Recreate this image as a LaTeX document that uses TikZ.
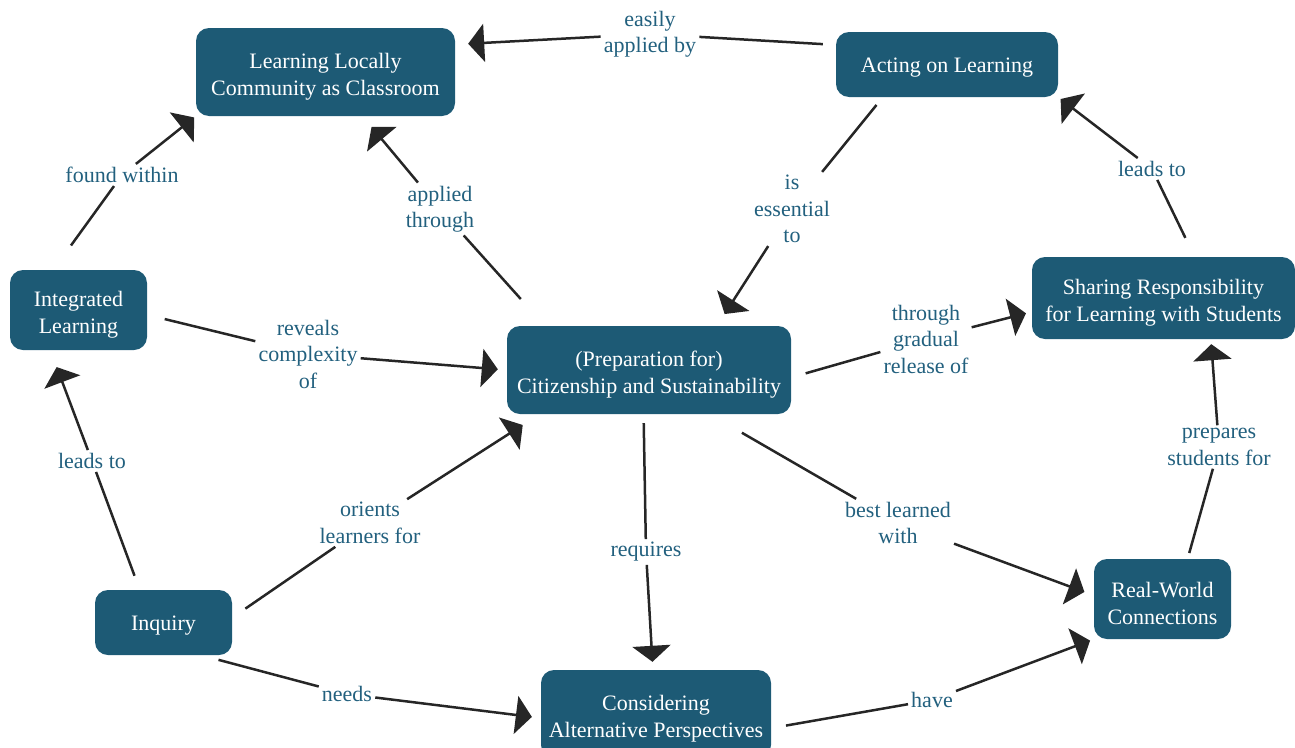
\documentclass[tikz,border=0pt]{standalone}
\usepackage{fontspec}
\setmainfont{Liberation Serif}
\usetikzlibrary{arrows.meta}
\definecolor{nodeblue}{RGB}{29,90,117}
\definecolor{labteal}{RGB}{34,96,126}
\definecolor{linegray}{RGB}{38,38,38}
\newcommand{\firststrut}{\rule{0pt}{25pt}}
\begin{document}
\begin{tikzpicture}[x=1pt,y=-1pt,
  concept/.style={fill=nodeblue, text=white, rounded corners=13pt, align=center, inner sep=0pt, font=\fontsize{22}{27}\selectfont},
  lab/.style={text=labteal, align=center, inner sep=3pt, font=\fontsize{22}{26.5}\selectfont},
  link/.style={draw=linegray, line width=2.5pt},
  arr/.style={link, -{Triangle[length=16pt,width=38pt]}}]
\useasboundingbox (0,0) rectangle (1295,747);
% concepts
\node[concept, minimum width=259pt, minimum height=88pt] (llc) at (325.5,72) {\firststrut Learning Locally\\Community as Classroom};
\node[concept, minimum width=222pt, minimum height=65pt] (act) at (947,64.5) {\rule{0pt}{21pt}Acting on Learning};
\node[concept, minimum width=137pt, minimum height=80pt] (intl) at (78.5,310) {\firststrut Integrated\\Learning};
\node[concept, minimum width=284pt, minimum height=88pt] (cit) at (649,370) {\firststrut (Preparation for)\\Citizenship and Sustainability};
\node[concept, minimum width=263pt, minimum height=82pt] (shr) at (1163.5,298) {\firststrut Sharing Responsibility\\for Learning with Students};
\node[concept, minimum width=137pt, minimum height=65pt] (inq) at (163.5,622.5) {\rule{0pt}{21pt}Inquiry};
\node[concept, minimum width=137pt, minimum height=80pt] (rwc) at (1162.5,599) {\firststrut Real-World\\Connections};
\node[concept, minimum width=230pt, minimum height=88pt] (cap) at (656,714) {\firststrut Considering\\Alternative Perspectives};
% labels
\node[lab] (l1) at (650,34) {easily\\applied by};
\node[lab] (l2) at (122,175) {found within};
\node[lab] (l3) at (440,209) {applied\\through};
\node[lab] (l4) at (792,209) {is\\essential\\to};
\node[lab] (l5) at (1152,169) {leads to};
\node[lab] (l6) at (308,354) {reveals\\complexity\\of};
\node[lab] (l7) at (926,339) {through\\gradual\\release of};
\node[lab] (l8) at (92,461) {leads to};
\node[lab] (l9) at (370,523) {orients\\learners for};
\node[lab] (l10) at (646,552) {requires};
\node[lab] (l11) at (898,523) {best learned\\with};
\node[lab] (l12) at (347,694) {needs};
\node[lab] (l13) at (932,700) {have};
\node[lab] (l14) at (1219,447) {prepares\\students for};
% connectors
\draw[link, shorten <=13pt] (act.170) -- (l1);
\draw[arr, shorten >=13pt] (l1) -- (llc.12);
\draw[link, shorten <=30pt] (intl.122) -- (l2);
\draw[arr, shorten >=2pt] (l2) -- (llc.south west);
\draw[link, shorten <=36pt] (cit.157) -- (l3);
\draw[arr, shorten >=14pt] (l3) -- (llc.310);
\draw[link, shorten <=10pt] (act.207) -- (l4);
\draw[arr, shorten >=14pt] (l4) -- (cit.33);
\draw[link, shorten <=21pt] (shr.53) -- (l5);
\draw[arr, shorten >=3pt] (l5) -- (act.south east);
\draw[link, shorten <=18pt] (intl.-4) -- (l6);
\draw[arr, shorten >=9pt] (l6) -- (cit.west);
\draw[link, shorten <=15pt] (cit.-3) -- (l7);
\draw[arr, shorten >=6pt] (l7) -- (shr.186);
\draw[link, shorten <=15pt] (inq.126) -- (l8);
\draw[arr, shorten >=18pt] (l8) -- (intl.235);
\draw[link, shorten <=16pt] (inq.4) -- (l9);
\draw[arr, shorten >=20pt] (l9) -- (cit.202);
\draw[link, shorten <=9pt] (cit.263) -- (l10);
\draw[arr, shorten >=8pt] (l10) -- (cap.94);
\draw[link, shorten <=37pt] (cit.324) -- (l11);
\draw[arr, shorten >=10pt] (l11) -- (rwc.177);
\draw[link, shorten <=18pt] (inq.319) -- (l12);
\draw[arr, shorten >=9pt] (l12) -- (cap.182);
\draw[link, shorten <=15pt] (cap.-7) -- (l13);
\draw[arr, shorten >=4pt] (l13) -- (rwc.south west);
\draw[link, shorten <=6pt] (rwc.58) -- (l14);
\draw[arr, shorten >=5pt] (l14) -- (shr.319);
\end{tikzpicture}
\end{document}
